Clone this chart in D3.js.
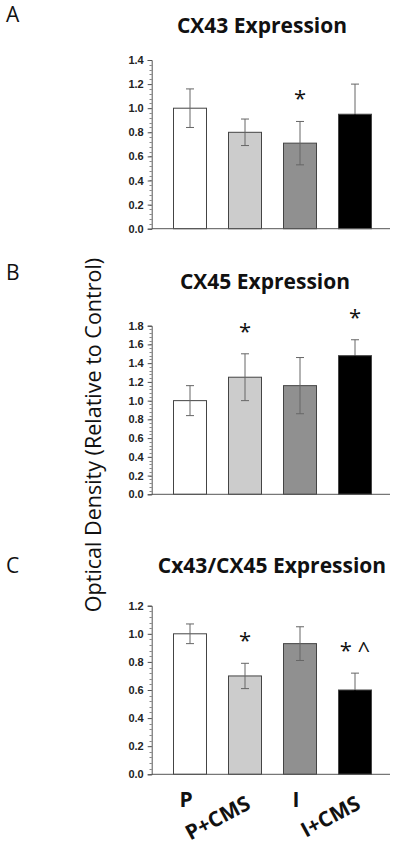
<!DOCTYPE html>
<html>
<head>
<meta charset="utf-8">
<script src="https://cdn.jsdelivr.net/npm/d3@7"></script>
<style>
  html, body { margin: 0; padding: 0; background: #fff; }
  svg { display: block; }
</style>
</head>
<body>
<svg id="chart" width="400" height="851"></svg>
<script>
// ---------- data ----------
const categories = ["P", "P+CMS", "I", "I+CMS"];
const barColors = ["#ffffff", "#cccccc", "#909090", "#000000"];

const cx43Values = [1.0, 0.80, 0.71, 0.95];
const cx43Errors = [0.16, 0.11, 0.18, 0.25];
const cx43Marks  = ["", "", "*", ""];
const cx43Ticks  = [0.0, 0.2, 0.4, 0.6, 0.8, 1.0, 1.2, 1.4];

const cx45Values = [1.0, 1.25, 1.16, 1.48];
const cx45Errors = [0.16, 0.25, 0.30, 0.17];
const cx45Marks  = ["", "*", "", "*"];
const cx45Ticks  = [0.0, 0.2, 0.4, 0.6, 0.8, 1.0, 1.2, 1.4, 1.6, 1.8];

const ratioValues = [1.0, 0.70, 0.93, 0.60];
const ratioErrors = [0.07, 0.09, 0.12, 0.12];
const ratioMarks  = ["", "*", "", "* ^"];
const ratioTicks  = [0.0, 0.2, 0.4, 0.6, 0.8, 1.0, 1.2];

const panelLetters = ["A", "B", "C"];
const panelTitles = ["CX43 Expression", "CX45 Expression", "Cx43/CX45 Expression"];
const yAxisTitle = "Optical Density (Relative to Control)";

// ---------- drawing ----------
const svg = d3.select("#chart");
const axisColor = "#555";

const x = d3.scaleBand()
  .domain(categories)
  .range([162.5, 382.5])
  .paddingInner(0.4)
  .paddingOuter(0.2);

function drawPanel(opt) {
  const g = svg.append("g");
  const maxV = opt.ticks[opt.ticks.length - 1];
  const y = d3.scaleLinear().domain([0, maxV]).range([opt.y0, opt.y1]);

  // panel letter
  g.append("text")
    .attr("x", 6).attr("y", opt.letterY)
    .attr("font-family", "Open Sans").attr("font-size", 21)
    .attr("fill", "#111")
    .text(opt.letter);

  // title
  g.append("text")
    .attr("x", opt.titleX).attr("y", opt.titleY)
    .attr("text-anchor", "middle")
    .attr("font-family", "Open Sans").attr("font-weight", "bold")
    .attr("font-size", 21).attr("fill", "#111")
    .text(opt.title);

  // minor ticks
  const minorStep = 0.04;
  const nMinor = Math.round(maxV / minorStep);
  const minors = d3.range(0, nMinor + 1).map(i => i * minorStep);
  g.append("g").selectAll("line").data(minors).join("line")
    .attr("x1", 149.5).attr("x2", 151.7)
    .attr("y1", d => Math.round(y(d)) + 0.5).attr("y2", d => Math.round(y(d)) + 0.5)
    .attr("stroke", "#888").attr("stroke-width", 1);

  // y axis
  const yAxis = d3.axisLeft(y).tickValues(opt.ticks)
    .tickFormat(d3.format(".1f")).tickSize(4).tickPadding(4);
  const ag = g.append("g").attr("transform", "translate(151.7,0)").call(yAxis);
  ag.select(".domain").attr("stroke", axisColor);
  ag.selectAll(".tick line").attr("stroke", axisColor);
  ag.selectAll(".tick text")
    .attr("font-family", "Liberation Sans, Arial").attr("font-weight", "bold")
    .attr("font-size", 11).attr("fill", "#222");

  // bars
  g.append("g").selectAll("rect").data(opt.values).join("rect")
    .attr("x", (d, i) => x(categories[i]))
    .attr("width", x.bandwidth())
    .attr("y", d => y(d))
    .attr("height", d => y(0) - y(d))
    .attr("fill", (d, i) => barColors[i])
    .attr("stroke", "#444").attr("stroke-width", 1);

  // error bars (the part inside a black bar blends into it)
  const eg = g.append("g").attr("stroke-width", 1);
  opt.values.forEach((v, i) => {
    const cx = x(categories[i]) + x.bandwidth() / 2;
    const mid = y(v);
    const hi = y(v + opt.errors[i]), lo = y(v - opt.errors[i]);
    const lowColor = barColors[i] === "#000000" ? "#000000" : "#666";
    eg.append("line").attr("x1", cx).attr("x2", cx).attr("y1", hi).attr("y2", mid).attr("stroke", "#666");
    eg.append("line").attr("x1", cx - 4).attr("x2", cx + 4).attr("y1", hi).attr("y2", hi).attr("stroke", "#666");
    eg.append("line").attr("x1", cx).attr("x2", cx).attr("y1", mid).attr("y2", lo).attr("stroke", lowColor);
    eg.append("line").attr("x1", cx - 4).attr("x2", cx + 4).attr("y1", lo).attr("y2", lo).attr("stroke", lowColor);
  });

  // x axis line
  g.append("line")
    .attr("x1", 151.7).attr("x2", 390)
    .attr("y1", y(0)).attr("y2", y(0))
    .attr("stroke", axisColor).attr("stroke-width", 1);

  // significance marks
  g.append("g").selectAll("text").data(opt.marks).join("text")
    .attr("x", (d, i) => x(categories[i]) + x.bandwidth() / 2)
    .attr("y", (d, i) => y(opt.values[i] + opt.errors[i]) - 15)
    .attr("text-anchor", "middle")
    .attr("font-family", "Open Sans").attr("font-size", 22).attr("fill", "#111")
    .text(d => d);

  return y;
}

drawPanel({ letter: panelLetters[0], letterY: 22, title: panelTitles[0], titleX: 262, titleY: 32.5,
  y0: 228.7, y1: 60, ticks: cx43Ticks, values: cx43Values, errors: cx43Errors, marks: cx43Marks });
drawPanel({ letter: panelLetters[1], letterY: 280, title: panelTitles[1], titleX: 265, titleY: 289,
  y0: 494.3, y1: 325.7, ticks: cx45Ticks, values: cx45Values, errors: cx45Errors, marks: cx45Marks });
drawPanel({ letter: panelLetters[2], letterY: 573, title: panelTitles[2], titleX: 272, titleY: 572.5,
  y0: 774.3, y1: 605.7, ticks: ratioTicks, values: ratioValues, errors: ratioErrors, marks: ratioMarks });

// category labels (bottom panel)
svg.append("g").selectAll("text").data(categories).join("text")
  .attr("transform", (d, i) => {
    const cx = x(d) + x.bandwidth() / 2;
    return i % 2 === 0
      ? `translate(${cx - 4},807)`
      : `translate(${cx + 7},808) rotate(-28)`;
  })
  .attr("text-anchor", (d, i) => i % 2 === 0 ? "middle" : "end")
  .attr("font-family", "Open Sans").attr("font-weight", "bold")
  .attr("font-size", 21).attr("fill", "#111")
  .text(d => d);

// shared y axis title
svg.append("text")
  .attr("transform", "translate(101,435) rotate(-90)")
  .attr("text-anchor", "middle")
  .attr("font-family", "Open Sans").attr("font-size", 21.5).attr("fill", "#111")
  .text(yAxisTitle);
</script>
</body>
</html>
